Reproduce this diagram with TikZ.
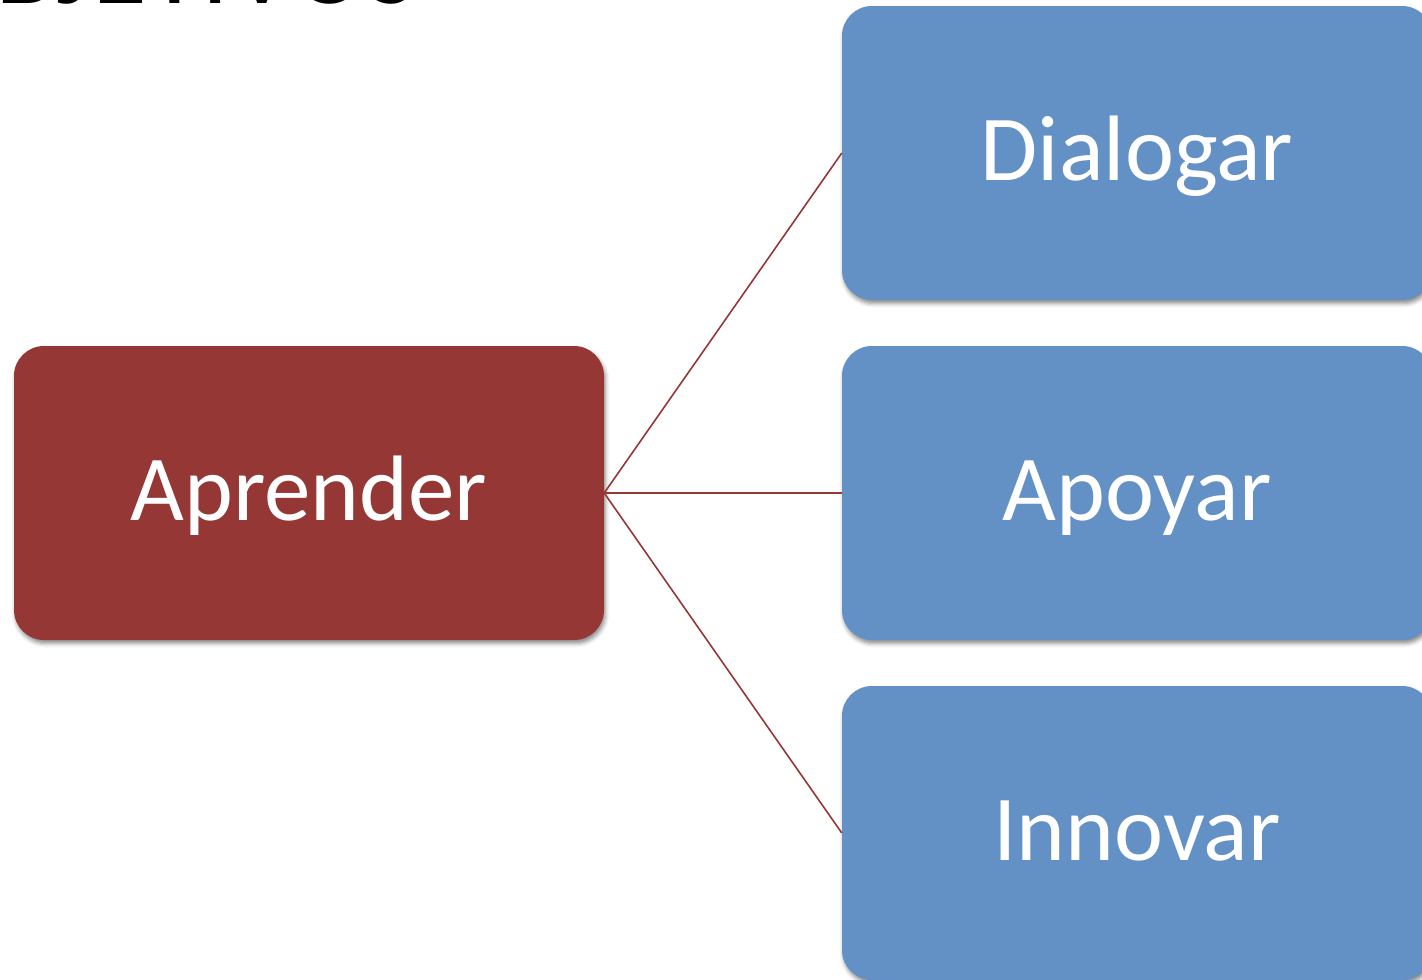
\documentclass[tikz,border=0pt]{standalone}
\usepackage{fontspec}
\setmainfont{Carlito}
\usetikzlibrary{shadows.blur}
\definecolor{rootred}{HTML}{953735}
\definecolor{leafblue}{HTML}{6390C5}
\tikzset{
  boxbase/.style={rectangle, rounded corners=30pt, minimum width=590pt,
    minimum height=294pt, inner sep=0pt, text=white,
    font=\fontsize{93}{110}\selectfont, text height=55pt, text depth=0pt,
    blur shadow={shadow xshift=1.5pt, shadow yshift=-3.5pt,
      shadow blur radius=4pt, shadow opacity=45}},
  rootbox/.style={boxbase, fill=rootred},
  leafbox/.style={boxbase, fill=leafblue},
  link/.style={draw=rootred, line width=1.6pt}
}
\begin{document}
\begin{tikzpicture}[x=1pt, y=-1pt]
  \useasboundingbox (0,0) rectangle (1422,980);
  \begin{scope}
    \clip (0,0) rectangle (1422,980);
    % heading, mostly above the page edge
    \node[anchor=base east, inner sep=0pt, font=\fontsize{112}{120}\selectfont]
      (title) at (418,3) {OBJETIVOS};
    % boxes
    \node[rootbox] (aprender) at (309,493) {Aprender};
    \node[leafbox] (dialogar) at (1137,153) {Dialogar};
    \node[leafbox] (apoyar)   at (1137,493) {Apoyar};
    \node[leafbox] (innovar)  at (1137,833) {Innovar};
    % connectors
    \draw[link] (aprender.east) -- (dialogar.west);
    \draw[link] (aprender.east) -- (apoyar.west);
    \draw[link] (aprender.east) -- (innovar.west);
  \end{scope}
\end{tikzpicture}
\end{document}
